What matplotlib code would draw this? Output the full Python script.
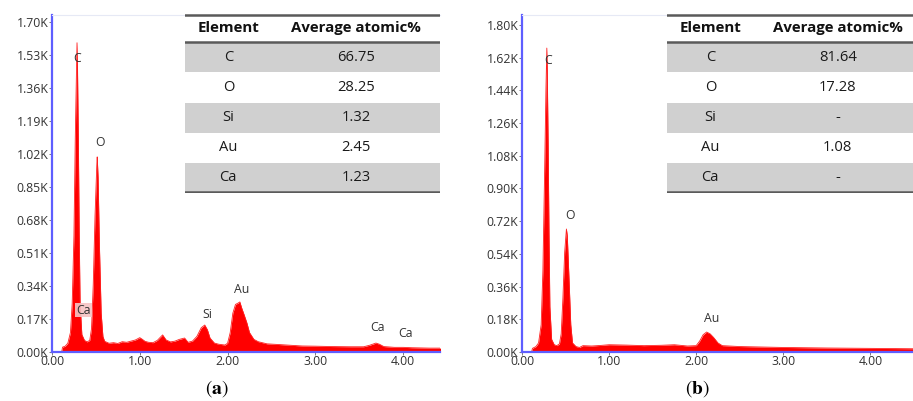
import matplotlib

matplotlib.use("Agg")

import matplotlib.pyplot as plt

# ---- spectrum (a): energy in keV, counts ----
energy_a = [0.11, 0.12, 0.15, 0.18, 0.21, 0.23, 0.25, 0.265, 0.28, 0.285, 0.29,
            0.30, 0.31, 0.32, 0.34, 0.37, 0.40, 0.43, 0.45, 0.47, 0.49, 0.51,
            0.515, 0.525, 0.54, 0.56, 0.58, 0.60, 0.65, 0.70, 0.75, 0.80, 0.85,
            0.90, 0.95, 1.00, 1.03, 1.06, 1.10, 1.15, 1.20, 1.26, 1.30, 1.35,
            1.40, 1.45, 1.51, 1.55, 1.60, 1.65, 1.70, 1.74, 1.77, 1.80, 1.85,
            1.90, 1.97, 2.00, 2.03, 2.06, 2.09, 2.12, 2.14, 2.16, 2.19, 2.22,
            2.25, 2.30, 2.35, 2.45, 2.60, 2.85, 3.00, 3.20, 3.40, 3.55, 3.62,
            3.69, 3.73, 3.78, 3.90, 4.00, 4.10, 4.30, 4.45]
counts_a = [0, 25, 30, 45, 100, 250, 600, 1100, 1480, 1593, 1480,
            1100, 600, 250, 90, 60, 52, 60, 120, 350, 700, 960,
            1005, 900, 550, 200, 80, 55, 45, 48, 44, 53, 50,
            56, 62, 74, 65, 55, 50, 48, 60, 88, 62, 52,
            56, 65, 72, 50, 56, 80, 125, 139, 115, 72, 46,
            40, 36, 45, 100, 200, 245, 252, 258, 228, 190, 150,
            100, 65, 53, 42, 38, 31, 30, 28, 27, 27, 35,
            46, 40, 28, 24, 24, 22, 20, 20]

# ---- spectrum (b) ----
energy_b = [0.11, 0.12, 0.16, 0.19, 0.22, 0.24, 0.26, 0.275, 0.285, 0.29, 0.30,
            0.31, 0.32, 0.34, 0.37, 0.40, 0.43, 0.45, 0.47, 0.49, 0.51, 0.52,
            0.54, 0.56, 0.58, 0.62, 0.66, 0.70, 0.80, 0.90, 1.00, 1.20, 1.40,
            1.60, 1.75, 1.90, 2.00, 2.04, 2.08, 2.12, 2.16, 2.20, 2.25, 2.30,
            2.50, 3.00, 3.50, 4.00, 4.49]
counts_b = [0, 20, 30, 50, 150, 450, 1000, 1450, 1673, 1550, 1150,
            650, 250, 70, 40, 35, 45, 100, 300, 550, 677, 640,
            400, 150, 50, 30, 25, 35, 33, 36, 40, 38, 35,
            37, 40, 33, 35, 60, 95, 110, 100, 80, 50, 35,
            30, 25, 22, 20, 18]

xticks = [0, 1, 2, 3, 4]
xtick_labels = ["0.00", "1.00", "2.00", "3.00", "4.00"]
yticks_a = [0, 170, 340, 510, 680, 850, 1020, 1190, 1360, 1530, 1700]
ytick_labels_a = ["0.00K", "0.17K", "0.34K", "0.51K", "0.68K", "0.85K",
                  "1.02K", "1.19K", "1.36K", "1.53K", "1.70K"]
yticks_b = [0, 180, 360, 540, 720, 900, 1080, 1260, 1440, 1620, 1800]
ytick_labels_b = ["0.00K", "0.18K", "0.36K", "0.54K", "0.72K", "0.90K",
                  "1.08K", "1.26K", "1.44K", "1.62K", "1.80K"]

peak_names_a = ["C", "O", "Ca", "Si", "Au", "Ca", "Ca"]
peak_x_a = [0.29, 0.55, 0.36, 1.77, 2.16, 3.71, 4.03]
peak_y_a = [1510, 1077, 216, 191, 320, 124, 93]
peak_names_b = ["C", "O", "Au"]
peak_x_b = [0.30, 0.55, 2.18]
peak_y_b = [1607, 754, 182]

# ---- tables ----
table_header = ["Element", "Average atomic%"]
elements = ["C", "O", "Si", "Au", "Ca"]
atomic_a = ["66.75", "28.25", "1.32", "2.45", "1.23"]
atomic_b = ["81.64", "17.28", "-", "1.08", "-"]

W, H = 913, 401
TICK_FONT = "Open Sans"
AXIS_BLUE = "#5e5eff"
TEXT_GREY = "#333333"


def px_rect(x0, y0, x1, y1):
    """Pixel box (top-left origin) -> figure fraction rect."""
    return [x0 / W, (H - y1) / H, (x1 - x0) / W, (y1 - y0) / H]


def draw_spectrum(ax, energy, counts, xmax, ymax, yticks, ylabels,
                  names, nx, ny, boxed=()):
    ax.fill_between(energy, counts, color="#ff0000", lw=0)
    ax.plot(energy, counts, color="#ff2020", lw=0.6)
    ax.set_xlim(0, xmax)
    ax.set_ylim(0, ymax)
    ax.set_xticks(xticks)
    ax.set_xticklabels(xtick_labels)
    ax.set_yticks(yticks)
    ax.set_yticklabels(ylabels)
    ax.spines["right"].set_visible(False)
    ax.spines["top"].set_color("#e6e9f5")
    ax.spines["top"].set_linewidth(0.8)
    for side in ("left", "bottom"):
        ax.spines[side].set_color(AXIS_BLUE)
        ax.spines[side].set_linewidth(1.6)
    ax.tick_params(length=2, width=0.6, color="#666666", pad=0.5,
                   labelsize=8.8, labelcolor=TEXT_GREY)
    for lab in ax.get_xticklabels() + ax.get_yticklabels():
        lab.set_family(TICK_FONT)
    for i, (name, x, y) in enumerate(zip(names, nx, ny)):
        kw = {}
        if i in boxed:
            kw["bbox"] = dict(facecolor="#f6c4c4", edgecolor="none",
                              pad=0.6, alpha=0.9)
        ax.text(x, y, name, ha="center", va="center", fontsize=8.8,
                family=TICK_FONT, color=TEXT_GREY, **kw)


def draw_table(fig, rect, values):
    tax = fig.add_axes(rect)
    tax.set_xlim(0, 1)
    n = len(elements)
    tax.set_ylim(n + 0.94, 0)
    tax.axis("off")
    for i, (el, val) in enumerate(zip(elements, values)):
        top = 0.94 + i
        if i % 2 == 0:
            tax.axhspan(top, top + 1, color="#d0d0d0", lw=0)
        tax.text(0.17, top + 0.5, el, ha="center", va="center",
                 fontsize=10.6, family=TICK_FONT, color="#1a1a1a")
        tax.text(0.67, top + 0.5, val, ha="center", va="center",
                 fontsize=10.6, family=TICK_FONT, color="#1a1a1a")
    tax.text(0.17, 0.47, table_header[0], ha="center", va="center",
             fontsize=10.8, family=TICK_FONT, weight="bold", color="#111111")
    tax.text(0.67, 0.47, table_header[1], ha="center", va="center",
             fontsize=10.8, family=TICK_FONT, weight="bold", color="#111111")
    for y in (0.02, 0.94, n + 0.92):
        tax.axhline(y, color="#5a5a5a", lw=1.8)


fig = plt.figure(figsize=(W / 100, H / 100), dpi=100)
plt.rcParams["mathtext.fontset"] = "stix"

ax_a = fig.add_axes(px_rect(52, 15, 440, 352))
draw_spectrum(ax_a, energy_a, counts_a, 4.42, 1736, yticks_a, ytick_labels_a,
              peak_names_a, peak_x_a, peak_y_a, boxed=(2,))
ax_b = fig.add_axes(px_rect(522, 15, 913, 352))
draw_spectrum(ax_b, energy_b, counts_b, 4.49, 1855, yticks_b, ytick_labels_b,
              peak_names_b, peak_x_b, peak_y_b)

draw_table(fig, px_rect(185, 14, 440, 193), atomic_a)
draw_table(fig, px_rect(667, 14, 922, 193), atomic_b)

fig.text(217 / W, 1 - 389 / H, r"$(\mathbf{a})$", ha="center", va="center",
         fontsize=14)
fig.text(697 / W, 1 - 389 / H, r"$(\mathbf{b})$", ha="center", va="center",
         fontsize=14)

fig.savefig("out.png", dpi=100)
plt.close(fig)
